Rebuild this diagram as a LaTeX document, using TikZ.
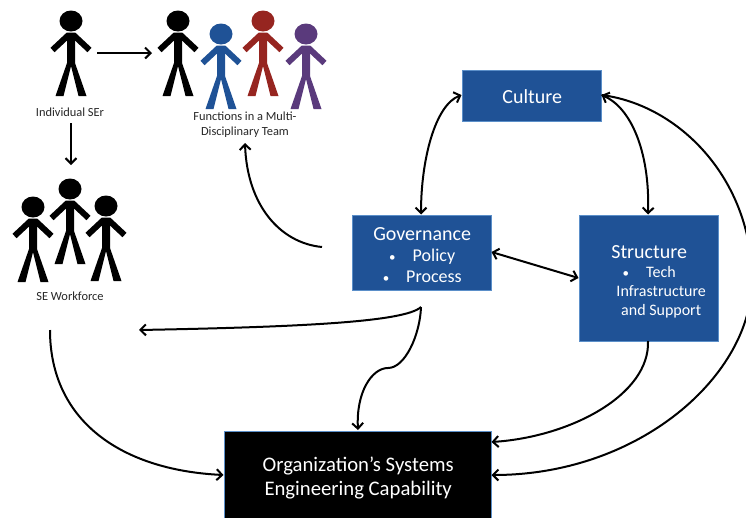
\documentclass[tikz,border=0pt]{standalone}
\usepackage{fontspec}
\setmainfont{Carlito}
\usetikzlibrary{arrows.meta}
\definecolor{boxblue}{HTML}{1F5296}
\definecolor{edgeblue}{HTML}{5B8FC9}
\definecolor{redfig}{HTML}{962520}
\definecolor{purplefig}{HTML}{5A3A7C}
\tikzset{
  x=1pt,y=-1pt,
  blockbox/.style={draw=edgeblue,line width=1.4pt,fill=boxblue,text=white,inner sep=0pt,anchor=north west,align=center},
  caption/.style={font=\fontsize{12.4}{15}\selectfont,align=center,inner sep=0pt,text=black!85},
  link/.style={line width=2pt,-{Straight Barb[length=5.5pt,width=11pt,line width=2pt]}},
  dlink/.style={line width=2pt,{Straight Barb[length=5.5pt,width=11pt,line width=2pt]}-{Straight Barb[length=5.5pt,width=11pt,line width=2pt]}},
  pics/figure/.style={code={
    \fill[#1] (0,0) ellipse [x radius=11.5,y radius=10.5];
    \fill[#1] (-4,12) -- (4,12) -- (4,42) -- (15.5,75) -- (7.5,75) -- (0,45) -- (-7.5,75) -- (-15.5,75) -- (-4,42) -- cycle;
    \draw[#1,line width=6pt] (-18.5,29) -- (-3,14.5) -- (3,14.5) -- (18.5,29);
  }}
}
\newcommand{\boxsmall}[1]{{\fontsize{16}{19}\selectfont #1}}
\newcommand{\boxmid}[1]{{\fontsize{18}{21}\selectfont #1}}
\newcommand{\minibullet}{{\fontsize{13}{13}\selectfont\textbullet}}
\begin{document}
\begin{tikzpicture}
\useasboundingbox (0,0) rectangle (746,517);
\clip (0,0) rectangle (746,517);
% figures
\pic at (71,21) {figure=black};
\pic at (178,21) {figure=black};
\pic at (221,34) {figure=boxblue};
\pic at (263,21) {figure=redfig};
\pic at (306,34) {figure=purplefig};
\pic at (33,207) {figure=black};
\pic at (70,189) {figure=black};
\pic at (106,206) {figure=black};
% captions
\node[caption] (ser) at (70,112) {Individual SEr};
\node[caption] (team) at (245,125) {Functions in a Multi-\\Disciplinary Team};
\node[caption] (workforce) at (70,296) {SE Workforce};
% boxes
\node[blockbox,minimum width=139pt,minimum height=51pt,font=\fontsize{20}{22}\selectfont] (culture) at (462,70) {Culture};
\node[blockbox,minimum width=139pt,minimum height=75pt,font=\fontsize{20}{21}\selectfont] (gov) at (352,215) {\rule{0pt}{16pt}Governance\\
  \boxmid{\minibullet\hspace{17pt}Policy}\\
  \boxmid{\minibullet\hspace{17pt}Process}};
\node[blockbox,minimum width=139pt,minimum height=126pt,font=\fontsize{20}{21}\selectfont] (struct) at (579,215) {\rule{0pt}{19pt}Structure\\[-2pt]
  \boxsmall{\minibullet\hspace{17pt}Tech}\\[-2pt]
  \boxsmall{\hspace*{24pt}Infrastructure}\\[-2pt]
  \boxsmall{\hspace*{24pt}and Support}};
\node[blockbox,fill=black,minimum width=267pt,minimum height=92pt,font=\fontsize{20.7}{24}\selectfont] (cap) at (224,431) {Organization’s Systems\\Engineering Capability};
% free ends
\coordinate (serR) at (97,53);
\coordinate (teamL) at (152,53);
\coordinate (serB) at (71,123);
\coordinate (wfT) at (71,165);
\coordinate (teamB) at (245,143);
\coordinate (govL) at (322,247);
\coordinate (govB) at (421,307);
\coordinate (wfR) at (139,330);
\coordinate (wfB) at (50,330);
\coordinate (capT) at (358,430);
\coordinate (capR1) at (491.5,442);
\coordinate (capR2) at (491.5,475);
\coordinate (capL) at (223.5,475);
\coordinate (govR) at (491.5,252);
\coordinate (strL) at (578.5,278);
\coordinate (cultL) at (461.5,95);
\coordinate (cultR) at (601.5,95);
\coordinate (govT) at (421,214.5);
\coordinate (strT) at (648,214.5);
\coordinate (strB) at (648,341);
% connectors
\draw[link] (serR) -- (teamL);
\draw[link] (serB) -- (wfT);
\draw[dlink] (cultL) .. controls (435,105) and (421,160) .. (govT);
\draw[dlink] (cultR) .. controls (630,107) and (650,150) .. (strT);
\draw[dlink] (govR) -- (strL);
\draw[link] (govL) .. controls (280,243) and (247,205) .. (teamB);
\draw[link] (govB) .. controls (405,322) and (300,327) .. (wfR);
\draw[link] (govB) .. controls (420,335) and (405,368) .. (388,368) .. controls (372,368) and (356,392) .. (capT);
\draw[link] (wfB) .. controls (50,420) and (120,470) .. (capL);
\draw[link] (strB) .. controls (650,395) and (570,437) .. (capR1);
\draw[link] (cultR) .. controls (680,105) and (752,180) .. (752,280) .. controls (752,375) and (640,475) .. (capR2);
\end{tikzpicture}
\end{document}
